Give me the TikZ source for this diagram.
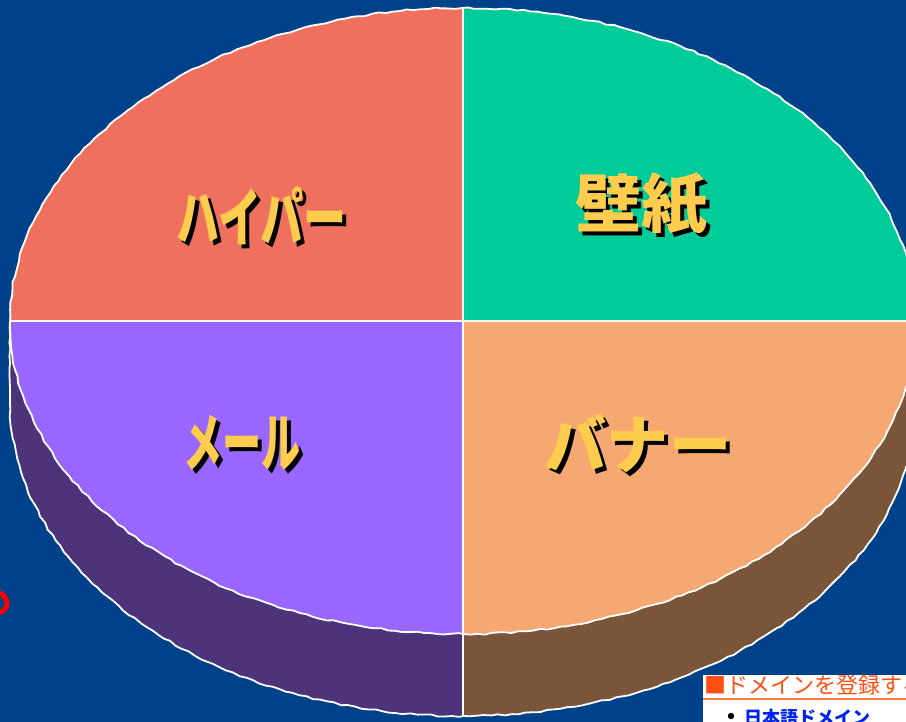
\documentclass[tikz,border=0pt]{standalone}
\usepackage{fontspec}
\newfontfamily\jp{Noto Sans CJK JP}
\usetikzlibrary{decorations.pathmorphing}
\definecolor{bgblue}{RGB}{0,66,138}
\definecolor{salmon}{RGB}{240,112,96}
\definecolor{teal}{RGB}{0,204,153}
\definecolor{violet}{RGB}{153,102,255}
\definecolor{peach}{RGB}{245,168,114}
\definecolor{darkviolet}{RGB}{76,51,122}
\definecolor{brownside}{RGB}{122,85,58}
\definecolor{lblyellow}{RGB}{255,204,77}
\definecolor{domorange}{RGB}{255,80,20}
\definecolor{domline}{RGB}{255,120,60}
\definecolor{domblue}{RGB}{0,34,238}
\tikzset{
  rim/.style={draw=white, line width=1.8pt, decorate, decoration={random steps, segment length=7pt, amplitude=0.9pt}},
  divider/.style={draw=white, line width=1.4pt},
  lblshadow/.style={text=black, inner sep=0pt, font=\jp\bfseries\fontsize{64}{64}\selectfont},
  lbl/.style={text=lblyellow, inner sep=0pt, font=\jp\bfseries\fontsize{64}{64}\selectfont},
}
\begin{document}
\begin{tikzpicture}[x=1pt,y=1pt]
\useasboundingbox (0,0) rectangle (906,722);
\clip (0,0) rectangle (906,722);
\fill[bgblue] (0,0) rectangle (906,722);
% side walls
\fill[darkviolet] (10,401) -- (10,319) arc[start angle=180, end angle=270, x radius=453, y radius=313] -- (463,88) arc[start angle=270, end angle=180, x radius=453, y radius=313] -- cycle;
\fill[brownside] (463,6) arc[start angle=270, end angle=360, x radius=453, y radius=313] -- (916,401) arc[start angle=0, end angle=-90, x radius=453, y radius=313] -- cycle;
% top face quadrants
\fill[salmon] (463,401) -- (10,401) arc[start angle=180, end angle=90, x radius=453, y radius=313] -- cycle;
\fill[teal] (463,401) -- (463,714) arc[start angle=90, end angle=0, x radius=453, y radius=313] -- cycle;
\fill[violet] (463,401) -- (10,401) arc[start angle=180, end angle=270, x radius=453, y radius=313] -- cycle;
\fill[peach] (463,401) -- (463,88) arc[start angle=270, end angle=360, x radius=453, y radius=313] -- cycle;
% outlines
\path[rim] (463,401) ellipse[x radius=453, y radius=313];
\path[rim] (10,401) -- (10,319) arc[start angle=180, end angle=360, x radius=453, y radius=313] -- (916,401);
\coordinate (ctop) at (463,714);
\coordinate (cbot) at (463,6);
\coordinate (cleft) at (10,401);
\coordinate (cright) at (916,401);
\draw[divider] (ctop) -- (cbot);
\draw[divider] (cleft) -- (cright);
% labels
\node[lblshadow] (s1) at (265,502) {\scalebox{0.67}[1]{ハイパー}};
\node[lbl] (l1) at (261,506) {\scalebox{0.67}[1]{ハイパー}};
\node[lblshadow] (s2) at (645,514) {\scalebox{1.03}[1]{壁紙}};
\node[lbl] (l2) at (641,518) {\scalebox{1.03}[1]{壁紙}};
\node[lblshadow] (s3) at (246,275) {\scalebox{0.61}[1]{メール}};
\node[lbl] (l3) at (242,279) {\scalebox{0.61}[1]{メール}};
\node[lblshadow] (s4) at (642,275) {\scalebox{0.97}[1]{バナー}};
\node[lbl] (l4) at (638,279) {\scalebox{0.97}[1]{バナー}};
% red ring
\draw[red, line width=5pt] (-3,119) circle[radius=10];
% bottom-right box
\fill[white] (703,0) rectangle (906,47);
\node[anchor=base west, inner sep=0pt, text=domorange, font=\jp\fontsize{22}{22}\selectfont] (dom) at (704,28) {■ドメインを登録する};
\coordinate (ul1) at (703,23);
\coordinate (ul2) at (906,23);
\draw[domline, line width=2pt] (ul1) -- (ul2);
\fill[black] (731,6) circle[radius=3.2];
\node[anchor=base west, inner sep=0pt, text=domblue, font=\jp\bfseries\fontsize{18}{18}\selectfont] (jd) at (744,-3) {日本語ドメイン};
\end{tikzpicture}
\end{document}
